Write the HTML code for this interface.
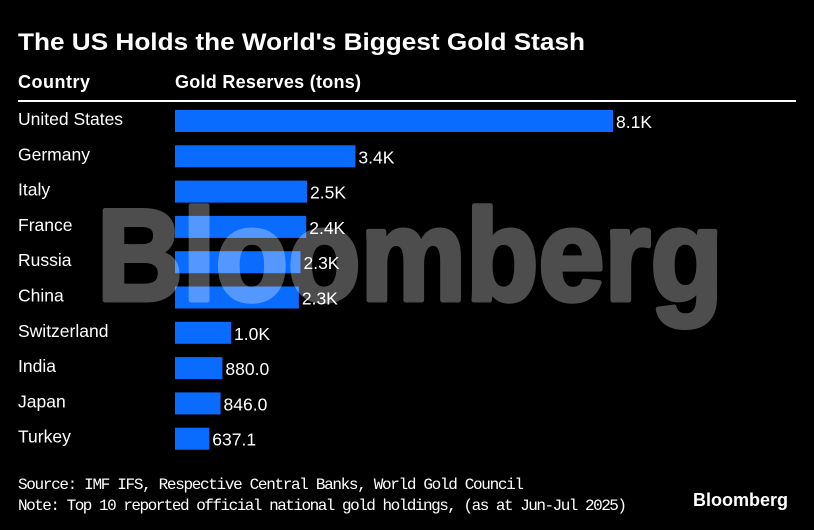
<!DOCTYPE html>
<html><head><meta charset="utf-8"><style>
body{margin:0;background:#000;}
svg{display:block;font-family:"Liberation Sans",Arial,sans-serif;}
</style></head><body>
<svg width="814" height="530" viewBox="0 0 814 530">
<rect width="814" height="530" fill="#000"/>
<text x="18" y="50" fill="#fff" font-size="24" font-weight="bold" textLength="567" lengthAdjust="spacingAndGlyphs">The US Holds the World's Biggest Gold Stash</text>
<text x="18" y="88" fill="#fff" font-size="18" font-weight="bold" textLength="72">Country</text>
<text x="175" y="88" fill="#fff" font-size="18" font-weight="bold" textLength="186">Gold Reserves (tons)</text>
<rect x="18" y="100" width="778" height="2" fill="#fff"/>
<g id="rows"></g>
<g opacity="0.3">
<text x="410" y="300" fill="#fff" stroke="#fff" stroke-width="5" stroke-linejoin="round" font-size="130" font-weight="bold" text-anchor="middle" textLength="626" lengthAdjust="spacingAndGlyphs">Bloomberg</text>
</g>
<g id="labels"></g>
<text x="18" y="489" fill="#fff" font-size="16" font-family="Liberation Mono, monospace" textLength="506">Source: IMF IFS, Respective Central Banks, World Gold Council</text>
<text x="18" y="510" fill="#fff" font-size="16" font-family="Liberation Mono, monospace" textLength="609">Note: Top 10 reported official national gold holdings, (as at Jun-Jul 2025)</text>
<text x="788" y="506" fill="#fff" font-size="18" font-weight="bold" text-anchor="end">Bloomberg</text>
</svg>
<script>
const countries=["United States","Germany","Italy","France","Russia","China","Switzerland","India","Japan","Turkey"];
const values=[8133,3350,2452,2437,2330,2300,1040,880,846,637.1];
const valueLabels=["8.1K","3.4K","2.5K","2.4K","2.3K","2.3K","1.0K","880.0","846.0","637.1"];
const ns="http://www.w3.org/2000/svg";
const x0=175, pxPer=438/8133;
function xs(v){return v*pxPer;}
function ys(i){return 110+i*35.3;}
const rows=document.getElementById('rows'), labels=document.getElementById('labels');
countries.forEach((c,i)=>{
  const y=ys(i);
  const t=document.createElementNS(ns,'text');
  t.setAttribute('x',18);t.setAttribute('y',y+15);t.setAttribute('fill','#fff');t.setAttribute('font-size','17.5');
  t.textContent=c;
  
  
  rows.appendChild(t);
  const r=document.createElementNS(ns,'rect');
  r.setAttribute('x',x0);r.setAttribute('y',y);r.setAttribute('width',xs(values[i]));r.setAttribute('height',22);r.setAttribute('fill','#0a6cff');
  
  
  rows.appendChild(r);
  const v=document.createElementNS(ns,'text');
  v.setAttribute('x',x0+xs(values[i])+3);v.setAttribute('y',y+18);v.setAttribute('fill','#fff');v.setAttribute('font-size','17.5');
  v.textContent=valueLabels[i];
  
  
  labels.appendChild(v);
});
</script>
</body></html>
